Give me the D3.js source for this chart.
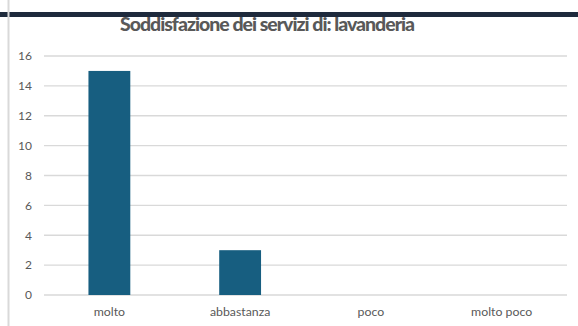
<!DOCTYPE html>
<html lang="it">
    <head>
        <meta charset="utf-8">
        <title>Soddisfazione dei servizi di: lavanderia</title>
        <script src="https://d3js.org/d3.v7.min.js"></script>
        <style type="text/css">
            body { margin: 0; background: #fff; }
            svg { display: block; }
        </style>
    </head>
    <body>
        <script type="text/javascript">

        // Data
        const categories = ["molto", "abbastanza", "poco", "molto poco"];
        const values = [15, 3, 0, 0];
        const yTicks = [0, 2, 4, 6, 8, 10, 12, 14, 16];

        // Constants
        const w = 578;
        const h = 326;
        const plotLeft = 44, plotRight = 567, plotTop = 56, plotBottom = 295;

        const svg = d3.select("body")
                      .append("svg")
                      .attr("width", w)
                      .attr("height", h);

        // dark band on top + left frame line
        svg.append("rect")
           .attr("x", 0).attr("y", 12)
           .attr("width", w).attr("height", 5)
           .attr("fill", "#1e2a3c");

        svg.append("rect")
           .attr("x", 7.5).attr("y", 0)
           .attr("width", 2).attr("height", h)
           .attr("fill", "#d9d9d9");

        // Scales
        const xScale = d3.scaleBand()
                         .domain(categories)
                         .range([plotLeft, plotRight])
                         .paddingInner(0.68)
                         .paddingOuter(0.34);

        const yScale = d3.scaleLinear()
                         .domain([0, 16])
                         .range([plotBottom, plotTop]);

        // gridlines
        svg.append("g")
           .selectAll("line")
           .data(yTicks)
           .enter()
           .append("line")
           .attr("x1", plotLeft)
           .attr("x2", plotRight)
           .attr("y1", d => yScale(d))
           .attr("y2", d => yScale(d))
           .attr("stroke", "#d9d9d9")
           .attr("stroke-width", 1.4);

        // Left axis (labels only)
        const leftAxis = d3.axisLeft(yScale)
                           .tickValues(yTicks)
                           .tickSize(0)
                           .tickPadding(0);

        const gy = svg.append("g")
                      .attr("transform", "translate(32,0)")
                      .call(leftAxis);
        gy.select(".domain").remove();
        gy.selectAll("text")
          .attr("font-family", "Lato, 'Open Sans', sans-serif")
          .attr("font-size", "12px")
          .attr("fill", "#595959");

        // Bars
        svg.selectAll("rect.bar")
           .data(values)
           .enter()
           .append("rect")
           .attr("class", "bar")
           .attr("x", (d, i) => xScale(categories[i]))
           .attr("y", d => yScale(d))
           .attr("width", xScale.bandwidth())
           .attr("height", d => yScale(0) - yScale(d))
           .attr("fill", "#175e80");

        // Bottom axis (labels only)
        const bottomAxis = d3.axisBottom(xScale)
                             .tickSize(0)
                             .tickPadding(0);

        const gx = svg.append("g")
                      .attr("transform", "translate(0,307)")
                      .call(bottomAxis);
        gx.select(".domain").remove();
        gx.selectAll("text")
          .attr("font-family", "Lato, 'Open Sans', sans-serif")
          .attr("font-size", "12.3px")
          .attr("fill", "#595959");

        // Title
        svg.append("text")
           .attr("x", 267)
           .attr("y", 31)
           .attr("text-anchor", "middle")
           .attr("font-family", "Lato, 'Open Sans', sans-serif")
           .attr("font-weight", "900")
           .attr("font-size", "19.5px")
           .attr("letter-spacing", "-1px")
           .attr("fill", "#595959")
           .text("Soddisfazione dei servizi di: lavanderia");
        </script>
    </body>
</html>
